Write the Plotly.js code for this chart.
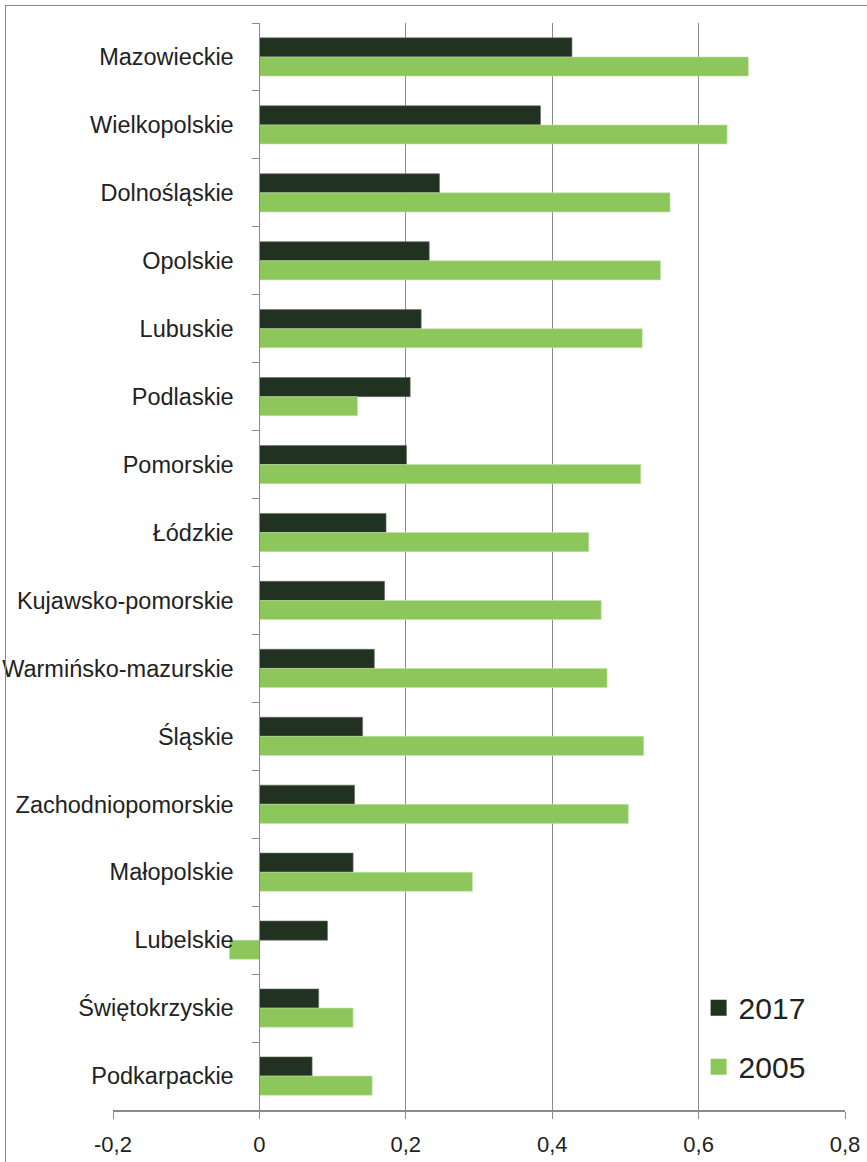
<!DOCTYPE html>
<html>
<head>
<meta charset="utf-8">
<script src="https://cdn.plot.ly/plotly-3.0.1.min.js"></script>
<style>
  html, body { margin: 0; padding: 0; background: #fff; }
  #wrap { position: relative; width: 867px; height: 1162px; overflow: hidden; }
  #chart { position: absolute; left: 0; top: 0; width: 867px; height: 1162px; }
  #frame { position: absolute; left: 5px; top: 5px; width: 900px; height: 1200px;
           border: 1px solid #8a8a8a; box-sizing: border-box; pointer-events: none; }
</style>
</head>
<body>
<div id="wrap">
  <div id="chart"></div>
  <div id="frame"></div>
</div>
<script>
const categories = [
  "Mazowieckie", "Wielkopolskie", "Dolnośląskie", "Opolskie", "Lubuskie",
  "Podlaskie", "Pomorskie", "Łódzkie", "Kujawsko-pomorskie", "Warmińsko-mazurskie",
  "Śląskie", "Zachodniopomorskie", "Małopolskie", "Lubelskie", "Świętokrzyskie", "Podkarpackie"
];
const values2017 = [0.427, 0.384, 0.246, 0.232, 0.221, 0.206, 0.201, 0.173, 0.171, 0.157,
                    0.141, 0.130, 0.128, 0.093, 0.081, 0.072];
const values2005 = [0.668, 0.639, 0.561, 0.548, 0.523, 0.134, 0.521, 0.450, 0.467, 0.475,
                    0.525, 0.504, 0.291, -0.041, 0.128, 0.154];
const xTickVals = [-0.2, 0, 0.2, 0.4, 0.6, 0.8];
const xTickText = ["-0,2", "0", "0,2", "0,4", "0,6", "0,8"];
const seriesNames = ["2017", "2005"];
const seriesColors = ["#223220", "#8dc75b"];

const axisGray = "#8a8a8a";
const font = "Liberation Sans, Arial, sans-serif";

const traces = [
  {
    type: "bar", orientation: "h", name: seriesNames[0], showlegend: false,
    y: categories, x: values2017,
    marker: { color: seriesColors[0], line: { color: "#6a6a6a", width: 0.6 } }
  },
  {
    type: "bar", orientation: "h", name: seriesNames[1], showlegend: false,
    y: categories, x: values2005,
    marker: { color: seriesColors[1], line: { color: "#c6e3ad", width: 0.6 } }
  },
  // legend-only entries (larger square swatches)
  {
    type: "scatter", mode: "markers", name: seriesNames[0], legendgroup: "a",
    x: [null], y: [null],
    marker: { symbol: "square", size: 19, color: seriesColors[0] }
  },
  {
    type: "scatter", mode: "markers", name: seriesNames[1], legendgroup: "b",
    x: [null], y: [null],
    marker: { symbol: "square", size: 19, color: seriesColors[1] }
  }
];

const layout = {
  width: 867, height: 1162,
  margin: { l: 113, r: 22, t: 23, b: 52, pad: 0 },
  paper_bgcolor: "#ffffff", plot_bgcolor: "#ffffff",
  font: { family: font, color: "#222222", size: 22 },
  barmode: "group",
  bargap: 0.437,
  bargroupgap: 0,
  showlegend: true,
  legend: {
    x: 0.80, xanchor: "left", y: 0.118, yanchor: "top",
    bgcolor: "rgba(0,0,0,0)", borderwidth: 0,
    font: { family: font, size: 30, color: "#222222" },
    traceorder: "grouped", tracegroupgap: 17
  },
  xaxis: {
    range: [-0.2, 0.8],
    tickvals: xTickVals, ticktext: xTickText,
    showgrid: true, gridcolor: axisGray, gridwidth: 1,
    zeroline: true, zerolinecolor: axisGray, zerolinewidth: 1,
    showline: true, linecolor: axisGray, linewidth: 2,
    ticks: "outside", ticklen: 7, tickcolor: axisGray, tickwidth: 1,
    tickfont: { family: font, size: 22, color: "#222222" },
    ticklabelstandoff: 7,
    fixedrange: true
  },
  yaxis: {
    type: "category",
    autorange: "reversed",
    anchor: "free", position: 0.2,
    showgrid: false, zeroline: false,
    showline: true, linecolor: axisGray, linewidth: 1,
    ticks: "outside", ticklen: 7, tickcolor: axisGray, tickwidth: 1,
    tickson: "boundaries",
    tickfont: { family: font, size: 23.5, color: "#222222" },
    ticklabelstandoff: 21,
    fixedrange: true
  }
};

Plotly.newPlot("chart", traces, layout, { displayModeBar: false, staticPlot: true });
</script>
</body>
</html>
